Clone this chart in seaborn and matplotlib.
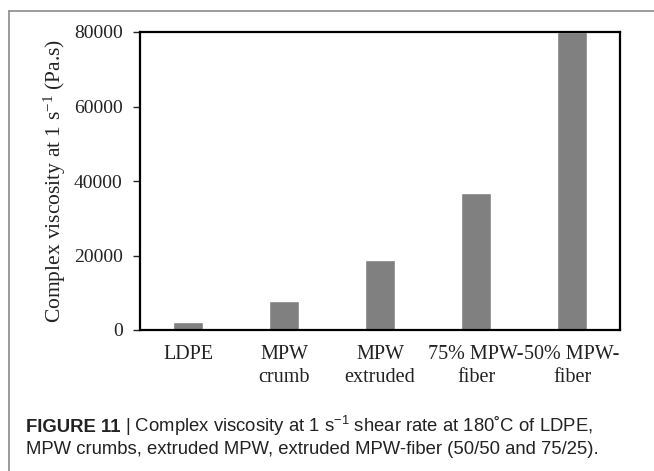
import matplotlib
matplotlib.use("Agg")
import matplotlib.pyplot as plt
import seaborn as sns
import pandas as pd
from matplotlib.lines import Line2D
from matplotlib import font_manager

# values
samples = ["LDPE", "MPW\ncrumb", "MPW\nextruded", "75% MPW-\nfiber", "50% MPW-\nfiber"]
viscosity = [2250, 7900, 18900, 36700, 80000]
yticks = [0, 20000, 40000, 60000, 80000]

data = pd.DataFrame({"sample": samples, "viscosity": viscosity})

sns.set_style("white")
plt.rcParams["font.family"] = ["Liberation Serif", "DejaVu Serif"]

W, H = 654, 471
fig = plt.figure(figsize=(W / 100, H / 100), dpi=100)
ax = fig.add_axes([140 / W, 1 - 330 / H, 480 / W, 298 / H])

sns.barplot(data=data, x="sample", y="viscosity", color="#808080", saturation=1,
            width=0.31, ax=ax)

ax.set_ylim(0, 80000)
ax.set_yticks(yticks)
ax.set_yticklabels([str(v) for v in yticks], fontsize=14, color="#222222")
ax.tick_params(axis="y", direction="out", length=5, width=1, left=True, pad=7.5)
ax.tick_params(axis="x", length=0, pad=10.5, labelsize=14.5)
for lab in ax.get_xticklabels():
    lab.set_linespacing(1.35)
    lab.set_color("#222222")
ax.set_xlabel("")
ax.set_ylabel(r"Complex viscosity at 1 s$\mathregular{^{-1}}$ (Pa.s)", fontsize=15.5,
              labelpad=4, color="#222222")
for sp in ax.spines.values():
    sp.set_visible(True)
    sp.set_color("black")
    sp.set_linewidth(1.6)

# frame around the figure panel (only left and top edges are visible)
fig.add_artist(Line2D([9 / W, 9 / W], [0, 1 - 11 / H], transform=fig.transFigure,
                      color="#8a8a8a", lw=1.2))
fig.add_artist(Line2D([9 / W, 1], [1 - 11 / H, 1 - 11 / H], transform=fig.transFigure,
                      color="#8a8a8a", lw=1.2))

# caption
installed = {f.name for f in font_manager.fontManager.ttflist}
bold_family = ["Liberation Sans Narrow"] if "Liberation Sans Narrow" in installed else ["Liberation Sans"]
cap = dict(fontsize=13.3, color="#222222", va="baseline")
sans = ["Liberation Sans", "DejaVu Sans"]
y1, y2 = 1 - 432 / H, 1 - 454 / H
t1 = fig.text(26 / W, y1, "FIGURE 11", fontweight="bold", family=bold_family + sans, **cap)
renderer = fig.canvas.get_renderer()
x_end = fig.transFigure.inverted().transform(
    (t1.get_window_extent(renderer).x1, 0))[0]
fig.text(x_end + 4 / W, y1,
         r"| Complex viscosity at 1 s$\mathregular{^{-1}}$ shear rate at 180˚C of LDPE,",
         family=sans, **cap)
fig.text(26 / W, y2, "MPW crumbs, extruded MPW, extruded MPW-fiber (50/50 and 75/25).",
         family=sans, **cap)

fig.savefig("out.png", dpi=100)
